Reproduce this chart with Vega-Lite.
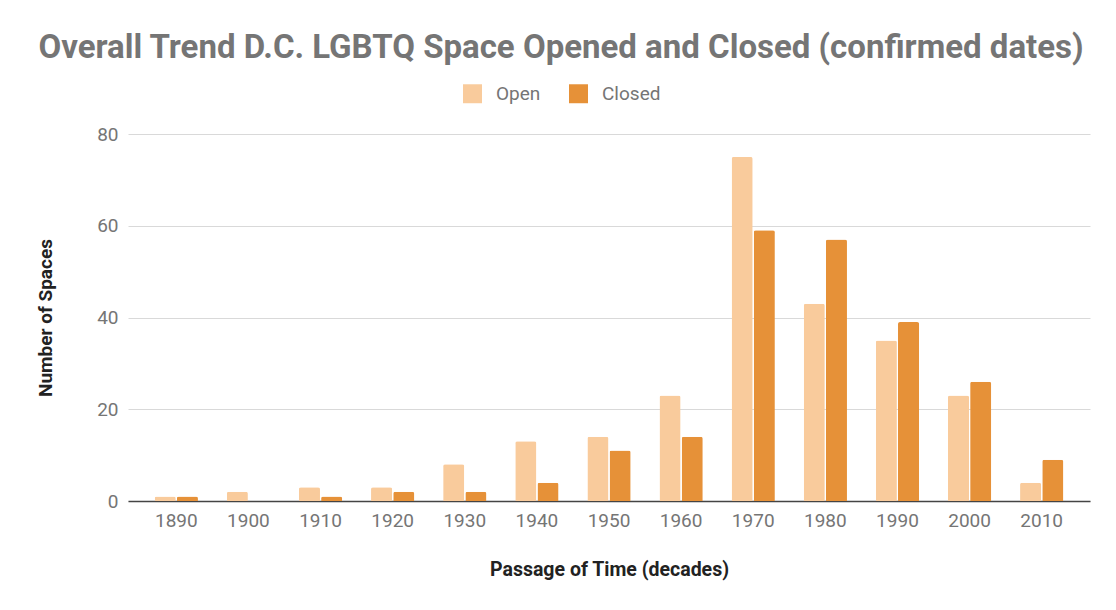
{
  "$schema": "https://vega.github.io/schema/vega-lite/v6.json",
  "width": 962,
  "height": 367,
  "autosize": {"type": "none"},
  "padding": {"left": 128, "top": 134, "right": 26, "bottom": 109},
  "background": "white",
  "config": {
    "font": "Roboto",
    "view": {"stroke": null}
  },
  "title": {
    "text": "Overall Trend D.C. LGBTQ Space Opened and Closed (confirmed dates)",
    "fontSize": 33,
    "fontWeight": "bold",
    "color": "#757575",
    "font": "Roboto",
    "anchor": "middle",
    "frame": "group",
    "dx": -48,
    "offset": 19
  },
  "data": {
    "values": [
      {"decade": "1890", "status": "Open", "count": 1},
      {"decade": "1890", "status": "Closed", "count": 1},
      {"decade": "1900", "status": "Open", "count": 2},
      {"decade": "1900", "status": "Closed", "count": 0},
      {"decade": "1910", "status": "Open", "count": 3},
      {"decade": "1910", "status": "Closed", "count": 1},
      {"decade": "1920", "status": "Open", "count": 3},
      {"decade": "1920", "status": "Closed", "count": 2},
      {"decade": "1930", "status": "Open", "count": 8},
      {"decade": "1930", "status": "Closed", "count": 2},
      {"decade": "1940", "status": "Open", "count": 13},
      {"decade": "1940", "status": "Closed", "count": 4},
      {"decade": "1950", "status": "Open", "count": 14},
      {"decade": "1950", "status": "Closed", "count": 11},
      {"decade": "1960", "status": "Open", "count": 23},
      {"decade": "1960", "status": "Closed", "count": 14},
      {"decade": "1970", "status": "Open", "count": 75},
      {"decade": "1970", "status": "Closed", "count": 59},
      {"decade": "1980", "status": "Open", "count": 43},
      {"decade": "1980", "status": "Closed", "count": 57},
      {"decade": "1990", "status": "Open", "count": 35},
      {"decade": "1990", "status": "Closed", "count": 39},
      {"decade": "2000", "status": "Open", "count": 23},
      {"decade": "2000", "status": "Closed", "count": 26},
      {"decade": "2010", "status": "Open", "count": 4},
      {"decade": "2010", "status": "Closed", "count": 9}
    ]
  },
  "mark": {"type": "bar", "cornerRadiusEnd": 2},
  "encoding": {
    "x": {
      "field": "decade",
      "type": "nominal",
      "scale": {"paddingInner": 0.4, "paddingOuter": 0.37},
      "axis": {
        "title": "Passage of Time (decades)",
        "titleFontSize": 19.5,
        "titleFontWeight": "bold",
        "titleColor": "#222222",
        "titlePadding": 30,
        "labelAngle": 0,
        "labelFontSize": 19,
        "labelColor": "#757575",
        "labelPadding": 10,
        "ticks": false,
        "domainColor": "#444444",
        "domainWidth": 1.5,
        "grid": false
      }
    },
    "xOffset": {
      "field": "status",
      "type": "nominal",
      "sort": ["Open", "Closed"],
      "scale": {"paddingInner": 0.05}
    },
    "y": {
      "field": "count",
      "type": "quantitative",
      "scale": {"domain": [0, 80]},
      "axis": {
        "title": "Number of Spaces",
        "titleFontSize": 19,
        "titleFontWeight": "bold",
        "titleColor": "#222222",
        "titlePadding": 41,
        "values": [0, 20, 40, 60, 80],
        "labelFontSize": 19,
        "labelColor": "#757575",
        "labelPadding": 10,
        "ticks": false,
        "domain": false,
        "gridColor": "#d9d9d9",
        "gridWidth": 1.2
      }
    },
    "color": {
      "field": "status",
      "type": "nominal",
      "sort": ["Open", "Closed"],
      "scale": {"domain": ["Open", "Closed"], "range": ["#f9cb9c", "#e69138"]},
      "legend": {
        "title": null,
        "orient": "none",
        "legendX": 335,
        "legendY": -50,
        "direction": "horizontal",
        "symbolType": "square",
        "symbolSize": 360,
        "symbolStrokeWidth": 0,
        "labelFontSize": 19,
        "labelColor": "#757575",
        "labelOffset": 14,
        "columnPadding": 28
      }
    }
  }
}
